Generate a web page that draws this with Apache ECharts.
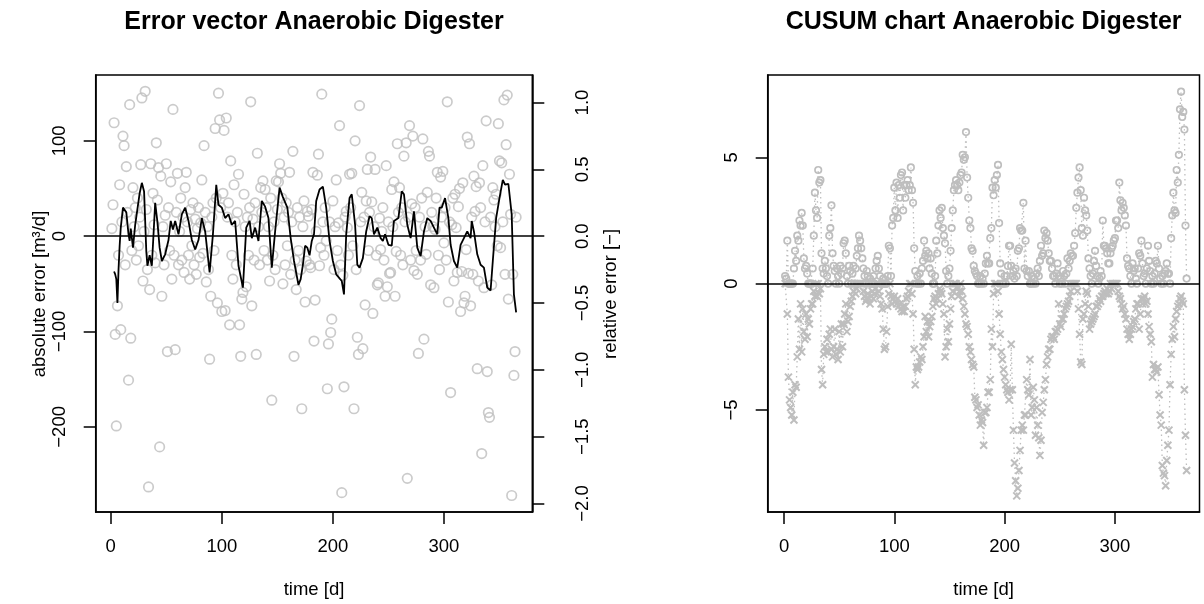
<!DOCTYPE html>
<html><head><meta charset="utf-8">
<script src="https://cdn.jsdelivr.net/npm/echarts@6.0.0/dist/echarts.min.js"></script>
<style>html,body{margin:0;padding:0;background:#fff}#main{width:1204px;height:604px}</style>
</head><body><div id="main"></div>
<script>
// ---------- data ----------
const absError = [
 8,33,119,-103,-199,-73,-20,54,-98,15,
 105,95,-30,73,25,-151,138,-107,-15,51,
 10,30,-25,40,-10,20,75,145,-47,5,
 152,28,-35,-263,-56,76,-20,45,12,-28,
 98,38,72,-221,63,-63,10,-30,22,76,
 -121,30,-15,57,-45,133,-20,-119,25,66,
 -30,5,40,-25,20,-38,51,67,15,-20,
 -45,28,-10,35,-30,18,-40,8,30,-22,
 14,59,-18,95,25,-48,10,-35,-129,-63,
 20,35,-15,113,40,-70,150,122,30,-79,
 45,111,-78,124,20,35,-93,79,-20,-45,
 54,15,-30,25,65,-93,-126,-66,-59,44,
 10,-53,20,-20,30,141,-73,18,-25,35,
 -124,87,10,-30,51,25,58,-15,49,30,
 -25,10,-47,40,-172,-20,15,-35,58,28,
 57,76,66,40,-50,20,-30,35,-10,25,
 67,-40,15,89,-126,-25,-56,30,-15,20,
 -35,-181,10,37,-69,-26,26,21,-30,-33,
 28,67,-110,-67,5,64,86,-31,-12,149,
 15,-20,30,-5,-160,-113,15,-101,-87,37,
 -35,10,59,-15,14,116,-30,-269,-41,-158,
 20,26,9,-20,65,30,66,-10,-181,100,
 -35,-106,-124,137,15,46,-118,20,-72,37,
 70,-15,25,83,36,-81,10,70,-20,-51,
 -49,19,-14,5,30,-25,-63,74,-53,15,
 -39,-38,49,10,57,-63,-16,97,25,51,
 -20,30,-30,84,15,98,-254,20,116,-25,
 34,105,-36,30,-15,-40,-123,20,-25,40,
 102,-108,10,-19,46,89,84,-51,25,10,
 -54,7,40,67,-20,-35,62,20,68,-7,
 30,-25,141,-69,15,-164,12,40,-47,44,
 9,-38,31,50,-79,-37,56,-70,-63,-14,
 104,-39,97,-73,20,-40,63,26,52,-139,
 -47,56,30,-228,74,-54,15,121,-142,-185,
 -190,20,-51,51,38,10,44,-10,118,79,
 -12,77,15,143,-40,96,148,-66,65,23,
 -272,-40,-146,-121,20
];
const avgDays = [3,4,5,6,7,8,9,11,14,16,17,18,20,22,26,28,30,32,33,35,37,40,42,44,46,49,52,54,56,58,61,64,67,70,73,76,79,82,85,89,92,95,97,100,103,106,109,112,115,119,122,125,127,130,133,136,139,142,145,148,152,155,159,162,165,169,171,173,175,177,179,181,183,185,188,191,194,197,200,203,208,210,212,215,217,220,222,224,227,230,233,235,237,240,243,245,247,250,253,255,259,262,264,267,270,273,276,279,282,285,288,291,294,296,298,301,304,306,309,312,315,318,321,324,325,327,330,333,336,339,342,344,347,350,353,355,358,361,363,365];
const avgError = [-37,-40,-45,-70,-35,-10,9,30,25,2,-5,8,-12,12,45,56,47,-16,-31,-20,-31,35,15,-12,-26,-19,-4,16,7,16,2,23,30,16,-4,-14,-4,19,5,-38,2,54,33,30,19,23,12,16,-31,-54,9,16,-2,9,-5,37,31,19,-33,5,51,41,30,-2,-26,-51,-45,-30,-10,-12,-20,-5,2,37,49,52,30,-5,-26,-40,-47,-61,2,40,44,12,-30,-33,-23,5,21,19,2,9,-2,-5,2,-9,-10,16,19,47,44,12,-2,26,-12,-21,5,19,16,9,2,30,30,40,19,-9,-26,-33,-9,-2,5,-2,16,5,-19,-30,-33,-54,-57,-26,19,40,59,54,55,23,-61,-80];
const cusumUpper = [
 0.3,0.2,1.7,0,0,0,0,0,0.6,1.3,
 0.9,1.9,1.7,2.5,2.3,2.8,2.3,1.0,0.6,0.7,
 0.4,0,0,0,0,0.6,1.9,3.6,2.9,2.6,
 4.5,4.0,4.1,1.2,0.6,0.4,0.9,0.6,0.3,0,
 1.9,2.2,3.1,1.2,0.7,0.5,0,0.6,0.3,0,
 0.7,0.4,0.6,1.6,1.7,1.2,0.3,0,0.7,0.5,
 0,0.4,0.7,0,0.6,1.1,1.4,1.9,1.7,1.4,
 1.0,0.6,0.3,0,0.5,0.3,0,0.2,0,0,
 0.3,0,0.6,0.9,1.1,0.6,0.3,0,0,0.2,
 0,0,0,0.3,1.5,1.4,0.3,2.3,2.6,3.8,
 2.9,4.0,2.6,3.9,3.4,4.3,4.4,2.9,3.9,3.4,
 3.9,4.1,3.7,3.9,4.6,3.7,3.2,1.4,0.5,0,
 0.3,0,0.4,0,0.6,0.9,1.7,1.1,1.3,1.0,
 1.2,0.6,1.0,0.4,0,0,0.3,1.7,1.2,2.3,
 2.9,2.6,3.0,2.2,1.9,1.6,0.5,0,0.3,0.6,
 1.3,2.2,2.9,3.7,3.9,4.1,3.9,3.7,4.0,4.3,
 4.4,5.1,4.9,5.0,6.0,4.2,3.4,2.5,2.2,1.4,
 1.3,0.7,0.5,0.4,0.3,0,0,0.3,0,0.2,
 0,0.4,0.8,1.1,0.8,0.8,1.8,2.2,3.8,3.5,
 4.1,3.8,4.3,4.7,2.4,0.8,0.4,0,0,0.3,
 0,0.3,0.7,1.5,1.5,0.7,0.3,0.5,0.2,0.6,
 0.3,1.3,1.4,2.2,2.1,2.1,3.2,0.6,1.7,0.5,
 0.3,0.5,0,0,0.3,0,0.2,0,0.4,0.6,
 0.3,0.9,1.5,1.1,1.2,2.1,1.8,2.0,1.7,1.2,
 0.9,0.9,0.6,0.3,0.3,0,0.4,0.8,0.3,0,
 0.2,0,0.5,0.3,0,0.4,1.0,0.6,0.9,1.2,
 1.1,1.1,1.5,2.0,3.0,3.6,4.2,4.6,3.7,2.2,
 1.9,3.4,2.9,2.7,2.1,1.0,0.6,0.3,0,0.4,
 0.9,1.3,0.7,0.3,0,0.2,0.5,0.3,2.5,1.5,
 1.5,1.4,1.2,0.8,0.8,1.2,1.4,1.5,1.7,1.8,
 2.5,2.5,2.2,4.0,3.3,2.9,3.2,3.0,2.7,2.3,
 1.0,0.7,0.6,0.3,0,0.8,0.5,0.6,0.2,0,
 0.6,1.2,1.1,1.7,0.8,0.3,0.4,0,0.6,1.5,
 0.9,0.5,0,0.3,0,0.4,0.9,0.8,1.5,0.6,
 0.2,0,0.3,0,0.4,0.5,0.8,0.4,0.4,0,
 1.8,2.7,3.6,2.9,2.8,4.5,4.0,5.1,6.9,7.6,
 6.6,6.8,6.1,2.3,0.2
];
const cusumLower = [
 0,0,-1.2,-3.7,-4.6,-4.9,-5.2,-4.3,-5.4,-4.0,
 -4.1,-2.9,-1.4,-2.6,-0.8,-2.7,-1.0,-1.9,-2.2,-1.2,
 -2.1,-1.4,-1.6,-1.0,-0.8,-0.8,-0.3,-0.5,0,-0.5,
 0,-0.4,-0.2,-3.4,-4.0,-2.8,-2.5,-2.7,-2.2,-2.7,
 -2.0,-1.8,-2.6,-2.9,-2.5,-1.8,-2.8,-2.6,-3.0,-1.9,
 -2.7,-1.6,-2.5,-1.6,-1.2,-0.8,-1.9,-1.5,-1.3,-0.9,
 -0.7,-0.5,-0.3,0,-0.4,-0.2,0,0,0,0,
 0,-0.3,-0.5,-0.7,-0.6,-0.4,-0.6,-0.8,-0.5,-0.3,
 -0.6,-0.4,-0.2,0,0,-0.3,-0.5,-0.8,-1.0,-1.8,
 -2.6,-2.5,-1.9,-0.9,-0.4,0,-0.5,-0.8,-0.6,-0.5,
 -0.7,-0.8,-0.6,-0.9,-0.8,-1.0,-1.1,-0.9,-1.1,-0.9,
 -0.6,-0.5,-0.3,0,0,-0.4,-1.2,-2.6,-4.0,-3.3,
 -3.4,-3.3,-3.1,-2.9,-3.0,-2.5,-2.1,-1.3,-1.9,-1.5,
 -2.1,-1.7,-1.5,-1.3,-0.9,-0.6,-0.5,-0.8,-0.6,-0.4,
 -0.2,-0.3,-0.4,-0.8,-1.2,-2.9,-2.5,-1.8,-2.3,-1.6,
 -1.0,-0.5,-0.3,0,0,0,-0.2,-0.5,-0.3,0,
 -0.3,-0.6,-0.9,-1.2,-1.6,-1.7,-2.0,-2.5,-2.7,-3.0,
 -3.2,-3.3,-4.5,-4.6,-4.9,-4.8,-5.2,-5.6,-5.4,-5.5,
 -6.4,-5.1,-5.1,-4.9,-4.3,-4.3,-3.8,-1.8,-2.5,-0.4,
 0,0,0,-0.3,-1.2,-2.0,-2.7,-3.0,-3.4,-3.7,
 -4.0,-4.2,-4.3,-4.6,-4.2,-2.4,-4.2,-5.8,-7.1,-7.8,
 -8.4,-8.1,-7.4,-6.6,-5.8,-5.6,-5.8,-5.2,-5.2,-3.8,
 -4.2,-4.4,-3.0,-5.2,-4.9,-4.1,-4.6,-6.0,-4.9,-5.6,
 -6.1,-6.8,-6.2,-5.1,-4.7,-4.2,-3.8,-3.2,-2.9,-2.6,
 -2.6,-2.2,-2.1,-2.1,-2.2,-1.9,-1.9,-1.8,-0.8,-1.6,
 -1.7,-1.4,-1.4,-1.2,-1.0,-0.9,-0.8,-0.7,-0.5,-0.3,
 0,0,0,0,0,-0.3,-1.0,-2.0,-3.1,-3.2,
 -1.4,-1.2,-0.8,-0.3,-0.4,-0.9,-1.8,-1.6,-1.5,-1.4,
 -1.3,-1.2,-0.9,-0.9,-0.8,-0.6,-0.7,-0.5,-0.5,-0.4,
 -0.3,-0.4,-0.2,-0.4,-0.3,0,-0.2,0,0,0,
 0,0,-0.3,-0.5,-0.6,-0.8,-1.0,-0.9,-1.2,-1.4,
 -1.8,-2.0,-2.2,-2.0,-1.8,-1.7,-1.5,-1.4,-1.0,-0.8,
 -0.8,-1.8,-1.2,-0.6,-0.8,-0.6,-0.5,-0.8,-0.7,-1.2,
 -1.7,-2.0,-2.3,-3.7,-3.2,-3.4,-3.4,-3.5,-3.3,-4.4,
 -5.2,-5.6,-7.2,-7.5,-7.6,-8.0,-7.0,-6.4,-5.8,-4.0,
 -2.8,-2.2,-1.7,-2.1,-1.4,-1.1,-0.9,-0.8,-0.6,-0.5,
 -0.7,-0.8,-4.2,-6.0,-7.4
];
const days = absError.map((_, i) => i + 1);
const timeTicks = [0, 100, 200, 300];
const absTicks = [-200, -100, 0, 100];
const relTicks = [-2, -1.5, -1, -0.5, 0, 0.5, 1];
const cusumTicks = [-5, 0, 5];
const absRange = [-289.3, 169.1];
const relPerAbs = 140.2;   // absolute units per unit relative error

// ---------- chart ----------
const FONT = "'Liberation Sans', Arial, Helvetica, sans-serif";
const GREY = '#bebebe';
const minus = s => String(s).replace('-', '\u2212');
const axisBase = (ticks, fmt, extra, rotate, margin) => Object.assign({
  axisLine: {show: true, onZero: false, lineStyle: {color: '#000', width: 1.5}},
  axisTick: {show: true, length: 12, customValues: ticks, lineStyle: {color: '#000', width: 1.5}},
  axisLabel: {customValues: ticks, formatter: fmt, color: '#000', fontFamily: FONT, fontSize: 18.5,
    margin: margin, rotate: rotate || 0},
  splitLine: {show: false}
}, extra);

const chart = echarts.init(document.getElementById('main'), null, {renderer: 'canvas'});
const zeroLine = {silent: true, symbol: ['none', 'none'], label: {show: false}, animation: false,
  lineStyle: {color: '#000', width: 1.5, type: 'solid'}, data: [{yAxis: 0}]};
const nameStyle = {color: '#000', fontFamily: FONT, fontSize: 18.5};

chart.setOption({
  animation: false,
  backgroundColor: '#fff',
  grid: [
    {left: 95.7, top: 75, width: 436.6, height: 438.3, show: true, borderColor: '#000', borderWidth: 1.5, containLabel: false},
    {left: 767.7, top: 75, width: 431.8, height: 437.7, show: true, borderColor: '#000', borderWidth: 1.5, containLabel: false}
  ],
  xAxis: [
    axisBase(timeTicks, v => minus(v), {type: 'value', gridIndex: 0, min: -13.56, max: 379.56, position: 'bottom',
      name: 'time [d]', nameLocation: 'middle', nameGap: 68, nameTextStyle: nameStyle}, 0, 25),
    axisBase(timeTicks, v => minus(v), {type: 'value', gridIndex: 1, min: -14.8, max: 376.7, position: 'bottom',
      name: 'time [d]', nameLocation: 'middle', nameGap: 68, nameTextStyle: nameStyle}, 0, 25)
  ],
  yAxis: [
    axisBase(absTicks, v => minus(v), {type: 'value', gridIndex: 0, min: absRange[0], max: absRange[1], position: 'left'}, 90, 26),
    axisBase(relTicks, v => minus(Number(v).toFixed(1)), {type: 'value', gridIndex: 0,
        min: absRange[0] / relPerAbs, max: absRange[1] / relPerAbs, position: 'right'}, 90, 41),
    axisBase(cusumTicks, v => minus(v), {type: 'value', gridIndex: 1, min: -9.04, max: 8.26, position: 'left'}, 90, 26)
  ],
  graphic: [
    {type: 'text', x: 314, y: 22, style: {text: 'Error vector Anaerobic Digester', font: 'bold 25px ' + FONT, fill: '#000', textAlign: 'center', textVerticalAlign: 'middle'}},
    {type: 'text', x: 983.6, y: 22, style: {text: 'CUSUM chart Anaerobic Digester', font: 'bold 25px ' + FONT, fill: '#000', textAlign: 'center', textVerticalAlign: 'middle'}},
    {type: 'text', x: 40, y: 294, rotation: Math.PI / 2, style: {text: 'absolute error [m\u00b3/d]', font: '18.5px ' + FONT, fill: '#000', textAlign: 'center', textVerticalAlign: 'middle'}},
    {type: 'text', x: 611, y: 294, rotation: Math.PI / 2, style: {text: 'relative error [\u2212]', font: '18.5px ' + FONT, fill: '#000', textAlign: 'center', textVerticalAlign: 'middle'}}
  ],
  series: [
    {type: 'scatter', xAxisIndex: 0, yAxisIndex: 0, silent: true, symbol: 'circle', symbolSize: 9.5,
      itemStyle: {color: 'rgba(0,0,0,0)', borderColor: GREY, borderWidth: 1.7},
      data: days.map((d, i) => [d, absError[i]]), z: 2},
    {type: 'line', xAxisIndex: 0, yAxisIndex: 0, silent: true, showSymbol: false, symbol: 'none',
      lineStyle: {color: '#000', width: 1.8}, data: avgDays.map((d, i) => [d, avgError[i]]), z: 3,
      markLine: zeroLine},
    {type: 'line', xAxisIndex: 1, yAxisIndex: 2, silent: true, symbol: 'circle', symbolSize: 6.5, showAllSymbol: true,
      itemStyle: {color: 'rgba(0,0,0,0)', borderColor: GREY, borderWidth: 1.7},
      lineStyle: {color: GREY, width: 1.3, type: [1.5, 3.5]},
      data: days.map((d, i) => [d, cusumUpper[i]]), z: 2},
    {type: 'line', xAxisIndex: 1, yAxisIndex: 2, silent: true, symbol: 'path://M0 0L10 10M10 0L0 10', symbolSize: 7, showAllSymbol: true,
      itemStyle: {color: 'rgba(0,0,0,0)', borderColor: GREY, borderWidth: 2},
      lineStyle: {color: GREY, width: 1.3, type: [1.5, 3.5]},
      data: days.map((d, i) => [d, cusumLower[i]]), z: 2,
      markLine: zeroLine}
  ]
});
</script>
</body></html>
